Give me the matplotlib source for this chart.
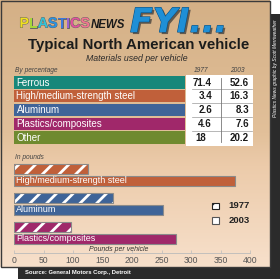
import numpy as np
import matplotlib
matplotlib.use("Agg")
import matplotlib.pyplot as plt
from matplotlib.patches import Rectangle
from matplotlib.colors import LinearSegmentedColormap
import matplotlib.patheffects as pe

# ---------------- data ----------------
materials = ['Ferrous', 'High/medium-strength steel', 'Aluminum',
             'Plastics/composites', 'Other']
pct_1977 = [71.4, 3.4, 2.6, 4.6, 18]
pct_2003 = [52.6, 16.3, 8.3, 7.6, 20.2]
mat_colors = ['#17877a', '#c0603a', '#3f6498', '#a0286a', '#6f8a2f']

bar_materials = ['High/medium-strength steel', 'Aluminum', 'Plastics/composites']
lbs_1977 = [125, 168, 97]
lbs_2003 = [375, 253, 275]
bar_colors = ['#c0603a', '#3f6498', '#a0286a']
x_ticks = [0, 50, 100, 150, 200, 250, 300, 350, 400]
years = ['1977', '2003']

SANS = ['Liberation Sans', 'DejaVu Sans']
plt.rcParams['hatch.linewidth'] = 2.0

W, H = 280, 279
fig = plt.figure(figsize=(W / 100, H / 100), dpi=100)
fig.patch.set_facecolor('white')

# overlay axes in pixel coordinates
ov = fig.add_axes([0, 0, 1, 1])
ov.set_xlim(0, W)
ov.set_ylim(H, 0)
ov.axis('off')

# shadow strips
ov.add_patch(Rectangle((270, 14), 10, 265, color='#2b2b2b', lw=0, zorder=0))
ov.add_patch(Rectangle((18, 266), 262, 13, color='#2b2b2b', lw=0, zorder=0))

# panel gradient background
cmap = LinearSegmentedColormap.from_list(
    'bg', [(0, '#d4b086'), (0.5, '#e2c09a'), (0.62, '#eccbaa'), (1, '#f7e0cb')])
grad = np.linspace(0, 1, 256).reshape(-1, 1)
ov.imshow(grad, cmap=cmap, aspect='auto', extent=(0, 270, 267, 0), zorder=1)
ov.add_patch(Rectangle((0.5, 0.5), 269.5, 266.5, fill=False, ec='#3a3a3a', lw=1.0, zorder=2))

renderer = fig.canvas.get_renderer()

# logo: rainbow PLASTICS
rainbow = ['#f2e01e', '#a6d63a', '#34c2d6', '#2a92e2', '#3b78dc', '#9860d2', '#e2529c', '#f27490']
xcur = 19.5
for i, ch in enumerate('PLASTICS'):
    t = ov.text(xcur, 27.5, ch, color=rainbow[i], fontsize=10.3, fontweight='bold',
                family=SANS, ha='left', va='baseline', zorder=3,
                path_effects=[pe.withStroke(linewidth=0.7, foreground='#666666')])
    xcur += t.get_window_extent(renderer).width
ov.text(xcur + 0.5, 27.5, 'NEWS', color='#1a1a1a', fontsize=8.3, fontweight='bold', style='italic',
        family=SANS, ha='left', va='baseline', zorder=3)
ov.text(130, 32, 'FYI...', color='#1f8fd6', fontsize=24, fontweight='bold', style='italic',
        family=['DejaVu Sans'], ha='left', va='baseline', zorder=3,
        path_effects=[pe.SimplePatchShadow(offset=(1.5, -1.5), shadow_rgbFace='#333333', alpha=0.7),
                      pe.withStroke(linewidth=0.8, foreground='#0a4f80')])

ov.text(138.5, 45, 'Typical North American vehicle', color='#1c1c1c', fontsize=10.8,
        fontweight='bold', family=SANS, ha='center', va='center', zorder=3)
ov.text(137, 58.5, 'Materials used per vehicle', color='#2a2a2a', fontsize=6.3,
        style='italic', family=SANS, ha='center', va='center', zorder=3)

# table header
ov.text(15, 70, 'By percentage', color='#444444', fontsize=4.8, style='italic',
        family=SANS, ha='left', va='center', zorder=3)
ov.text(201.5, 70, years[0], color='#444444', fontsize=4.8, style='italic',
        family=SANS, ha='center', va='center', zorder=3)
ov.text(237, 70, years[1], color='#444444', fontsize=4.8, style='italic',
        family=SANS, ha='center', va='center', zorder=3)

# table body
ov.add_patch(Rectangle((186, 75), 67, 71, color='white', lw=0, zorder=2))
row_pitch = 13.85
for i, (m, a, b, c) in enumerate(zip(materials, pct_1977, pct_2003, mat_colors)):
    top = 76 + i * row_pitch
    ov.add_patch(Rectangle((14, top), 171, 12.6, color=c, lw=0, zorder=3))
    yc = top + 6.6
    ov.text(16.5, yc, m, color='white', fontsize=7.0, family=SANS,
            ha='left', va='center', zorder=4)
    for val, xr in ((a, 212), (b, 249)):
        s = f'{val}'
        xx = xr if '.' in s else xr - 6
        ov.text(xx, yc, s, color='#1a1a1a', fontsize=7.0, fontweight='bold',
                family=SANS, ha='right', va='center', zorder=4)
    if i < len(materials) - 1:
        ov.plot([192, 252], [top + 13.2, top + 13.2], color='#9a9a9a', lw=0.5, zorder=4)
ov.plot([220.5, 220.5], [78, 142], color='#777777', lw=0.6, zorder=4)

# bar chart header
ov.text(15, 157.5, 'In pounds', color='#444444', fontsize=4.8, style='italic',
        family=SANS, ha='left', va='center', zorder=3)

# bar axes
x0, x1, ytop, ybot = 14, 250, 160, 253
bx = fig.add_axes([x0 / W, (H - ybot) / H, (x1 - x0) / W, (ybot - ytop) / H])
bx.set_facecolor('none')
bx.set_zorder(5)
ypos = np.arange(len(bar_materials))
off, hgt = 0.2, 0.36
bx.barh(ypos - off, lbs_1977, height=hgt, color=bar_colors, edgecolor='white',
        hatch='//', lw=0, zorder=2)
bx.barh(ypos - off, lbs_1977, height=hgt, color='none', edgecolor='#8a8a8a', lw=0.8, zorder=3)
bx.barh(ypos + off, lbs_2003, height=hgt, color=bar_colors, edgecolor='#8a8a8a', lw=0.8, zorder=2)
for y, name in zip(ypos, bar_materials):
    bx.text(3.5, y + off, name, color='white', fontsize=6.5, family=SANS,
            ha='left', va='center', zorder=4)
bx.set_xlim(0, 400)
bx.set_ylim(2.69, -0.52)
bx.set_xticks(x_ticks)
bx.set_xticklabels([str(t) for t in x_ticks], family=SANS, fontsize=6.2, color='#555555')
bx.set_yticks([])
for s in ['top', 'right', 'left']:
    bx.spines[s].set_visible(False)
bx.spines['bottom'].set_color('#bbbbbb')
bx.spines['bottom'].set_linewidth(0.6)
bx.tick_params(axis='x', direction='in', length=2, width=0.5, color='#bbbbbb', pad=2.5)
bx.text(178, 2.56, 'Pounds per vehicle', color='#333333', fontsize=5.0, style='italic',
        family=SANS, ha='center', va='center')

# legend
ov.add_patch(Rectangle((212, 202.5), 6.5, 6.5, facecolor='white', edgecolor='#222222',
                       hatch='//', lw=0.8, zorder=6))
ov.add_patch(Rectangle((212, 217), 6.5, 6.5, facecolor='white', edgecolor='#555555',
                       lw=0.8, zorder=6))
ov.text(228.5, 206, years[0], color='#222222', fontsize=6.8, fontweight='bold',
        family=SANS, ha='left', va='center', zorder=6)
ov.text(228.5, 220.5, years[1], color='#222222', fontsize=6.8, fontweight='bold',
        family=SANS, ha='left', va='center', zorder=6)

# credits
ov.text(275.3, 68, 'Plastics News graphic by Scott Merriweather', color='white',
        fontsize=3.5, style='italic', family=SANS, rotation=90, ha='center', va='center', zorder=3)
ov.text(25, 272.5, 'Source: General Motors Corp., Detroit', color='white', fontsize=4.2,
        fontweight='bold', family=SANS, ha='left', va='center', zorder=3)

fig.savefig('out.png', dpi=100, facecolor='white')
